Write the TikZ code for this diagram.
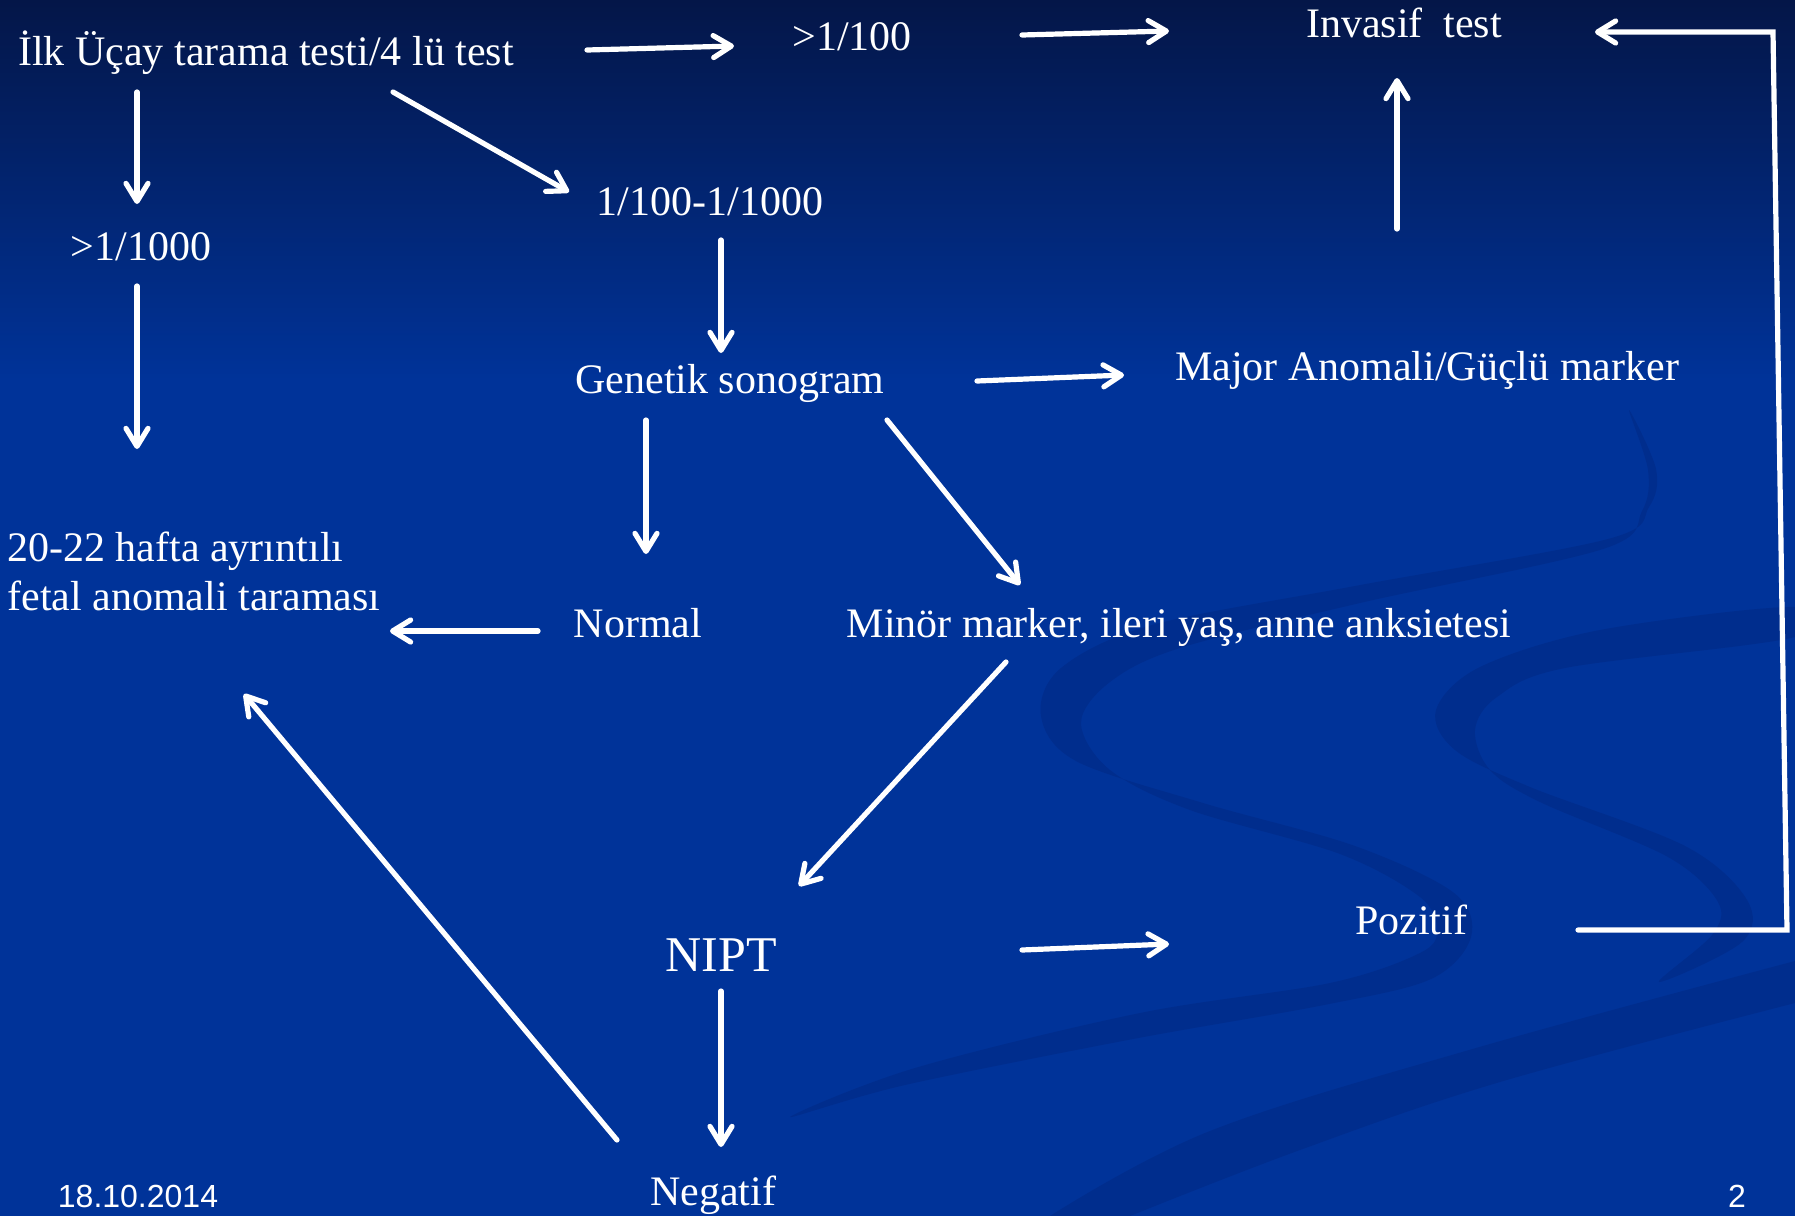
\documentclass[tikz,border=0pt]{standalone}
\usepackage{fontspec}
\setmainfont{Liberation Serif}
\newfontfamily\sansf{Liberation Sans}
\usetikzlibrary{arrows.meta,calc}
\definecolor{bgblue}{RGB}{0,51,153}
\definecolor{topblue}{RGB}{4,22,72}
\definecolor{swirl}{RGB}{0,45,141}
\tikzset{
  lbl/.style={text=white, font=\fontsize{21}{25}\selectfont, inner sep=0pt, anchor=base},
  big/.style={lbl, font=\fontsize{25}{30}\selectfont},
  foot/.style={text=white, font=\sansf\fontsize{16}{19}\selectfont, inner sep=0pt, anchor=base},
  arr/.style={draw=white, line width=2.6pt, line cap=round, line join=round,
    -{Straight Barb[length=9pt,width=11pt,round]}},
  band/.style={fill=swirl},
}
\begin{document}
\begin{tikzpicture}[x=0.5pt,y=-0.5pt]
\useasboundingbox (0,0) rectangle (1795,1216);
% background
\fill[bgblue] (0,0) rectangle (1795,1216);
\shade[top color=topblue, bottom color=bgblue] (0,0) rectangle (1795,380);
% decorative swirls
\fill[band] plot[smooth cycle, tension=0.55] coordinates {
  (1629,410) (1656,469) (1649,507) (1608,539) (1355,586) (1152,625) (1061,668) (1041,716)
  (1076,761) (1203,803) (1355,846) (1454,893) (1471,937) (1431,979) (1324,1005) (1133,1039)
  (905,1085) (790,1117)
  (915,1068) (1140,1013) (1330,983) (1420,953) (1437,930) (1420,897) (1340,854) (1190,810)
  (1110,770) (1081,723) (1110,682) (1180,648) (1360,603) (1603,549) (1642,511) (1648,470)};
\fill[band] plot[smooth cycle, tension=0.55] coordinates {
  (1795,607) (1600,630) (1480,667) (1436,710) (1455,750) (1530,787) (1685,846) (1747,900)
  (1742,942) (1659,982)
  (1712,935) (1718,902) (1668,857) (1540,802) (1490,770) (1475,730) (1497,697) (1565,668) (1795,637)};
\fill[band] plot[smooth, tension=0.6] coordinates {(1795,961) (1476,1048) (1210,1131) (1050,1216)}
  -- plot[smooth, tension=0.6] coordinates {(1130,1216) (1300,1150) (1500,1082) (1795,1003)} -- cycle;
% nodes
\node[lbl] (ilk) at (266,65) {İlk Üçay tarama testi/4 lü test};
\node[lbl] (p100) at (852,50) {>1/100};
\node[lbl] (inv) at (1404,37) {Invasif\ \ test};
\node[lbl] (mid) at (710,215) {1/100-1/1000};
\node[lbl] (p1000) at (141,260) {>1/1000};
\node[lbl] (gen) at (730,393) {Genetik sonogram};
\node[lbl] (maj) at (1427,380) {Major Anomali/Güçlü marker};
\node[lbl, anchor=base west] (ana1) at (7,561) {20-22 hafta ayrıntılı};
\node[lbl, anchor=base west] (ana2) at (7,610) {fetal anomali taraması};
\node[lbl] (norm) at (638,637) {Normal};
\node[lbl] (min) at (1179,637) {Minör marker, ileri yaş, anne anksietesi};
\node[big] (nipt) at (721,971) {NIPT};
\node[lbl] (poz) at (1411,934) {Pozitif};
\node[lbl] (neg) at (713,1205) {Negatif};
\node[foot] (date) at (138,1207) {18.10.2014};
\node[foot] (pg) at (1737,1207) {2};
\coordinate (c1) at (1787,930);
\coordinate (c2) at (1773,32);
% connectors
\draw[arr] ($(ilk.base)+(321,-15)$) -- ($(p100.base)+(-118,-4)$);
\draw[arr] ($(p100.base)+(170,-15)$) -- ($(inv.base)+(-235,-6)$);
\draw[arr, line join=miter] ($(poz.base)+(167,-4)$) -- (c1) -- (c2) -- ($(inv.base)+(191,-5)$);
\draw[arr] ($(maj.base)+(-30,-151)$) -- ($(inv.base)+(-7,41)$);
\draw[arr] ($(ilk.base)+(-129,27)$) -- ($(p1000.base)+(-4,-56)$);
\draw[arr] ($(ilk.base)+(127,27)$) -- ($(mid.base)+(-141,-23)$);
\draw[arr] ($(p1000.base)+(-4,26)$) -- ($(ana1.base west)+(130,-112)$);
\draw[arr] ($(mid.base)+(11,25)$) -- ($(gen.base)+(-9,-40)$);
\draw[arr] ($(gen.base)+(247,-12)$) -- ($(maj.base)+(-303,-5)$);
\draw[arr] ($(gen.base)+(-84,27)$) -- ($(norm.base)+(8,-83)$);
\draw[arr] ($(gen.base)+(157,27)$) -- ($(min.base)+(-159,-52)$);
\draw[arr] ($(norm.base)+(-100,-6)$) -- ($(ana2.base west)+(383,21)$);
\draw[arr] ($(min.base)+(-173,25)$) -- ($(nipt.base)+(78,-85)$);
\draw[arr] ($(nipt.base)+(301,-21)$) -- ($(poz.base)+(-242,10)$);
\draw[arr] ($(nipt.base)+(0,20)$) -- ($(neg.base)+(8,-58)$);
\draw[arr] ($(neg.base)+(-96,-65)$) -- ($(ana2.base west)+(237,84)$);
\end{tikzpicture}
\end{document}
